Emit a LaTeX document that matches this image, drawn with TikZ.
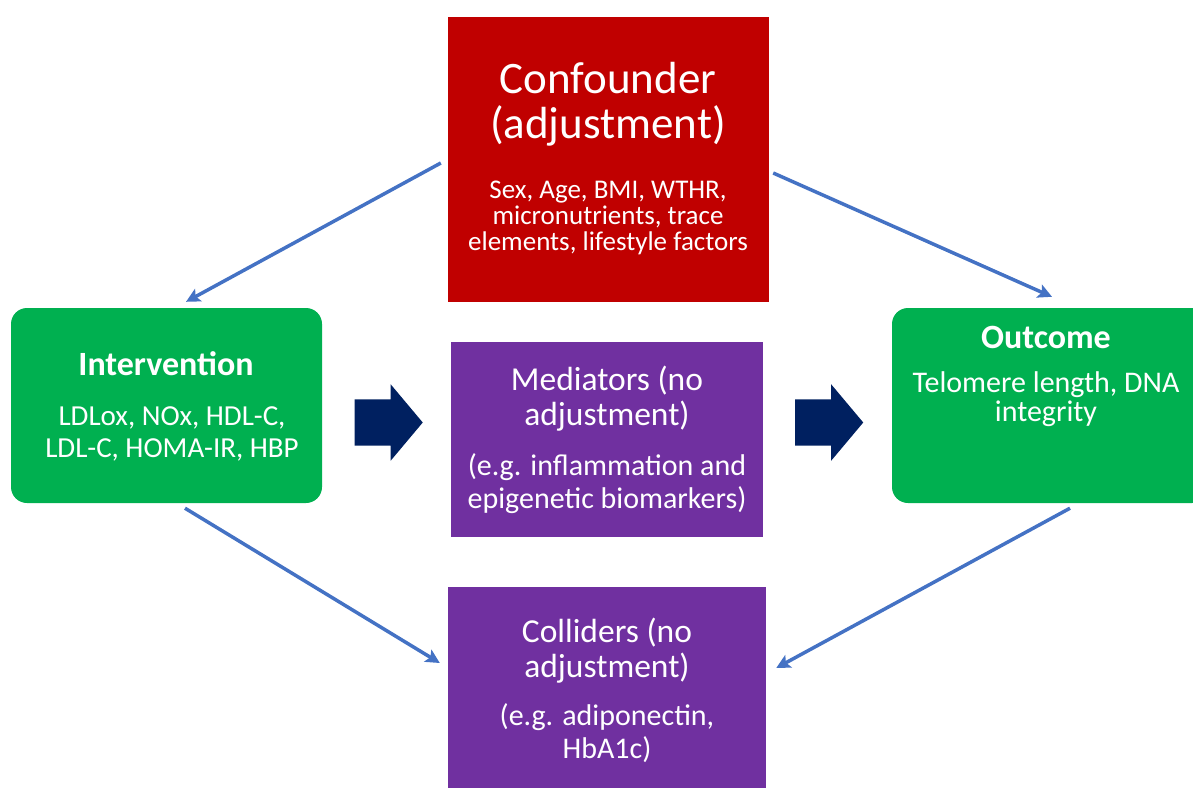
\documentclass[tikz,border=0pt]{standalone}
\usepackage{fontspec}
\setmainfont{Carlito}
\usetikzlibrary{arrows.meta,shapes.arrows}
\definecolor{confred}{HTML}{C00000}
\definecolor{boxgreen}{HTML}{00B050}
\definecolor{medpurple}{HTML}{7030A0}
\definecolor{navy}{HTML}{002060}
\definecolor{linkblue}{HTML}{4472C4}
\tikzset{
  box/.style={rectangle,draw=none,inner sep=0pt},
  txt/.style={white,align=center,anchor=base,inner sep=0pt},
  link/.style={linkblue,line width=3.5pt,-{Stealth[length=14pt,width=14pt,inset=3pt]}},
  blockarrow/.style={single arrow,fill=navy,draw=none,inner xsep=0pt,inner ysep=23pt,
    minimum height=68pt,single arrow head extend=15pt,single arrow tip angle=100}
}
\newcommand{\fs}[2]{\fontsize{#1pt}{#2pt}\selectfont}
\begin{document}
\begin{tikzpicture}[x=1pt,y=-1pt]
  \useasboundingbox (0,0) rectangle (1193,787);
  % boxes
  \node[box,fill=confred,minimum width=321pt,minimum height=285pt] (conf) at (608.5,159.5) {};
  \node[box,fill=boxgreen,rounded corners=16pt,minimum width=311pt,minimum height=195pt] (interv) at (166.5,405.5) {};
  \node[box,fill=boxgreen,rounded corners=16pt,minimum width=316pt,minimum height=195pt] (outc) at (1050,405.5) {};
  \node[box,fill=medpurple,minimum width=312pt,minimum height=195pt] (med) at (607,439.5) {};
  \node[box,fill=medpurple,minimum width=318pt,minimum height=212pt] (coll) at (607,693) {};
  % texts (anchor is the baseline of the last line)
  \node[txt,font=\fs{45}{45}] (conftitle) at (608,138) {Confounder\\(adjustment)};
  \node[txt,font=\fs{27}{26}] (confbody) at (608,250) {Sex, Age, BMI, WTHR,\\micronutrients, trace\\elements, lifestyle factors};
  \node[txt,font=\fs{34}{34}\bfseries] (intervtitle) at (166,375) {Intervention};
  \node[txt,font=\fs{29}{32}] (intervbody) at (172,457) {LDLox, NOx, HDL-C,\\LDL-C, HOMA-IR, HBP};
  \node[txt,font=\fs{34}{34}\bfseries] (outctitle) at (1046,348) {Outcome};
  \node[txt,font=\fs{30}{29}] (outcbody) at (1046,421) {Telomere length, DNA\\integrity};
  \node[txt,font=\fs{33.5}{35}] (medtitle) at (607,425) {Mediators (no\\adjustment)};
  \node[txt,font=\fs{30}{33}] (medbody) at (607,508) {(e.g. inflammation and\\epigenetic biomarkers)};
  \node[txt,font=\fs{33.5}{35}] (colltitle) at (607,677) {Colliders (no\\adjustment)};
  \node[txt,font=\fs{30}{33}] (collbody) at (607,758) {(e.g. adiponectin,\\HbA1c)};
  % block arrows
  \node[blockarrow] (arrA) at (379,422.5) {};
  \node[blockarrow] (arrB) at (819.5,422.5) {};
  % connectors
  \draw[link] ([xshift=-7pt,yshift=-3.5pt]conf.west) -- ([xshift=19.5pt,yshift=6pt]interv.north);
  \draw[link] ([xshift=4pt,yshift=-13.5pt]conf.east) -- ([xshift=2pt,yshift=11pt]outc.north);
  \draw[link] ([xshift=18.5pt,yshift=-5pt]interv.south) -- ([xshift=-8pt,yshift=30pt]coll.west);
  \draw[link] ([xshift=20pt,yshift=-5pt]outc.south) -- ([xshift=10pt,yshift=25pt]coll.east);
\end{tikzpicture}
\end{document}
